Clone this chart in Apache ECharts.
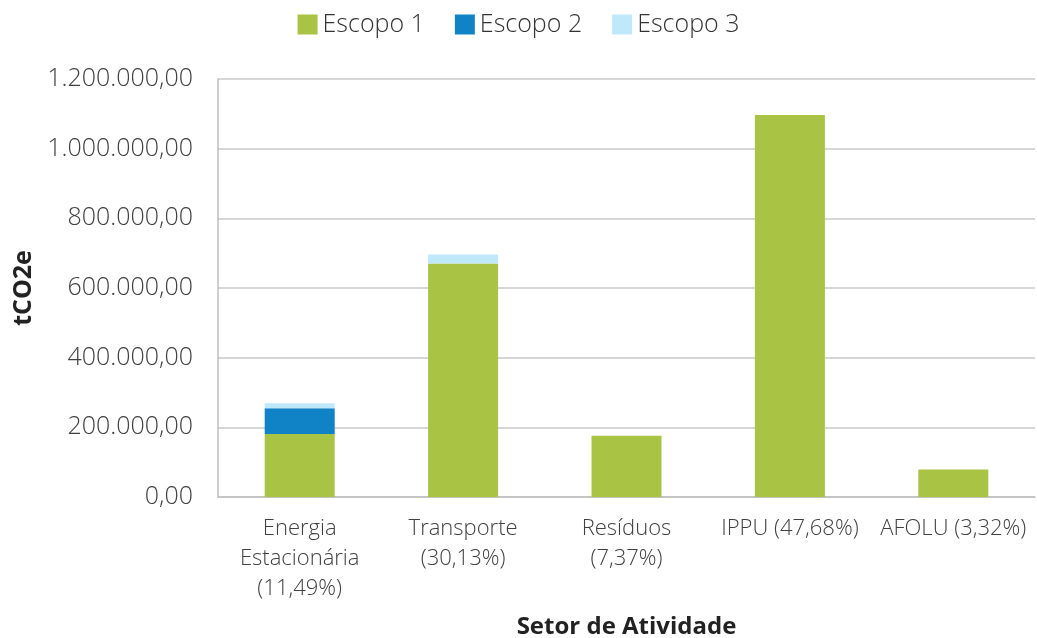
<!DOCTYPE html>
<html>
<head>
<meta charset="utf-8">
<script src="https://cdn.jsdelivr.net/npm/echarts@6/dist/echarts.min.js"></script>
<style>
  html, body { margin: 0; padding: 0; background: #fff; }
  #chart { width: 1037px; height: 638px; }
</style>
</head>
<body>
<div id="chart"></div>
<script>
// setores e valores (tCO2e)
const setores = [
  "Energia\nEstacionária\n(11,49%)",
  "Transporte\n(30,13%)",
  "Resíduos\n(7,37%)",
  "IPPU (47,68%)",
  "AFOLU (3,32%)",
];
const escopo1 = [181000, 670500, 175500, 1097000, 79000];
const escopo2 = [73500, 0, 0, 0, 0];
const escopo3 = [14300, 25800, 0, 0, 0];

const fonte = "'Open Sans', sans-serif";

function formatoBR(v) {
  const partes = Math.round(v).toString().replace(/\B(?=(\d{3})+(?!\d))/g, ".");
  return partes + ",00";
}

const chart = echarts.init(document.getElementById("chart"));
chart.setOption({
  backgroundColor: "#fff",
  textStyle: { fontFamily: fonte },
  legend: {
    top: 7,
    left: "center",
    itemWidth: 20,
    itemHeight: 20,
    itemGap: 30,
    icon: "rect",
    textStyle: { fontSize: 25, color: "#333", fontFamily: fonte, fontWeight: 300 },
    data: ["Escopo 1", "Escopo 2", "Escopo 3"],
  },
  grid: { left: 218, right: 2, top: 79, bottom: 141, outerBoundsMode: "none" },
  xAxis: {
    type: "category",
    data: setores,
    name: "Setor de Atividade",
    nameLocation: "middle",
    nameGap: 118,
    nameTextStyle: { fontSize: 24, fontWeight: "bold", color: "#222", fontFamily: fonte },
    axisLine: { lineStyle: { color: "#bfbfbf", width: 1.5 } },
    axisTick: { show: false },
    axisLabel: {
      fontSize: 22,
      lineHeight: 30,
      color: "#404040",
      margin: 17,
      interval: 0,
      fontFamily: fonte,
      fontWeight: 300,
    },
  },
  yAxis: {
    type: "value",
    min: 0,
    max: 1200000,
    interval: 200000,
    name: "tCO2e",
    nameLocation: "middle",
    nameGap: 180,
    nameTextStyle: { fontSize: 25, fontWeight: "bold", color: "#222", fontFamily: fonte },
    axisLine: { show: true, lineStyle: { color: "#bfbfbf", width: 1.5 } },
    axisTick: { show: false },
    splitLine: { lineStyle: { color: "#c8c8c8", width: 1.5 } },
    axisLabel: {
      fontSize: 25,
      color: "#404040",
      margin: 25,
      fontFamily: fonte,
      fontWeight: 300,
      formatter: formatoBR,
    },
  },
  series: [
    {
      name: "Escopo 1",
      type: "bar",
      stack: "total",
      barWidth: 70,
      itemStyle: { color: "#a9c445" },
      data: escopo1,
    },
    {
      name: "Escopo 2",
      type: "bar",
      stack: "total",
      barWidth: 70,
      itemStyle: { color: "#1082c6" },
      data: escopo2,
    },
    {
      name: "Escopo 3",
      type: "bar",
      stack: "total",
      barWidth: 70,
      itemStyle: { color: "#c0e8fb" },
      data: escopo3,
    },
  ],
});
</script>
</body>
</html>
